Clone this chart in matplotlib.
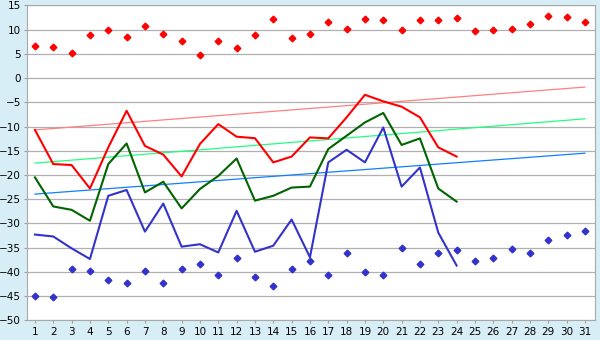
import matplotlib
matplotlib.use("Agg")
import matplotlib.pyplot as plt

# daily series, days 1..31
days = list(range(1, 32))
days_obs = list(range(1, 25))

max_temp = [6.6, 6.4, 5.2, 8.9, 9.9, 8.5, 10.7, 9.1, 7.6, 4.8,
            7.6, 6.2, 8.9, 12.2, 8.25, 9.1, 11.55, 10.1, 12.2, 12.0,
            9.9, 12.0, 12.0, 12.4, 9.7, 9.9, 10.1, 11.1, 12.8, 12.6, 11.55]
min_temp = [-45.0, -45.2, -39.4, -39.8, -41.7, -42.3, -39.8, -42.3, -39.4, -38.4,
            -40.65, -37.1, -41.1, -42.9, -39.4, -37.8, -40.65, -36.1, -40.0, -40.65,
            -35.1, -38.4, -36.1, -35.5, -37.8, -37.1, -35.3, -36.1, -33.4, -32.4, -31.6]

day_max = [-10.7, -17.75, -17.95, -22.8, -14.3, -6.75, -14.0, -15.8, -20.3, -13.6,
           -9.5, -12.1, -12.4, -17.4, -16.2, -12.25, -12.45, -8.1, -3.45, -4.8,
           -5.9, -8.1, -14.3, -16.2]
day_mean = [-20.5, -26.5, -27.2, -29.45, -17.75, -13.5, -23.6, -21.4, -26.9, -22.9,
            -20.2, -16.6, -25.3, -24.3, -22.6, -22.4, -14.65, -11.9, -9.15, -7.2,
            -13.8, -12.45, -22.8, -25.5]
day_min = [-32.3, -32.7, -35.15, -37.35, -24.3, -23.1, -31.7, -25.9, -34.8, -34.3,
           -36.0, -27.4, -35.85, -34.6, -29.2, -37.0, -17.4, -14.8, -17.4, -10.2,
           -22.4, -18.45, -31.9, -38.7]

# normals: value on day 1 and day 31
norm_days = [1, 31]
norm_max = [-10.7, -1.85]
norm_mean = [-17.55, -8.4]
norm_min = [-23.95, -15.5]

fig = plt.figure(figsize=(6, 3.4), dpi=100, facecolor="#d8eef6")
ax = fig.add_axes([0.0445, 0.058, 0.9472, 0.926])
ax.set_facecolor("white")

ax.plot(norm_days, norm_max, color="#ff8080", lw=0.9)
ax.plot(norm_days, norm_mean, color="#22ff80", lw=0.9)
ax.plot(norm_days, norm_min, color="#1080ff", lw=0.9)

ax.plot(days_obs, day_max, color="#ff0000", lw=1.5)
ax.plot(days_obs, day_mean, color="#006400", lw=1.5)
ax.plot(days_obs, day_min, color="#3333cc", lw=1.5)

ax.plot(days, max_temp, ls="none", marker="D", ms=3.4, color="#ff0000")
ax.plot(days, min_temp, ls="none", marker="D", ms=3.4, color="#3333cc")

ax.set_xlim(0.55, 31.55)
ax.set_ylim(-50, 15)
ax.set_xticks(days)
ax.set_yticks(range(-50, 16, 5))
ax.yaxis.grid(True, color="#b0b0b0", lw=0.9)
ax.set_axisbelow(True)
ax.tick_params(labelsize=7.5, length=2.5, color="#a0a0a0", pad=1.5)
ax.tick_params(axis="x", pad=2)
for s in ax.spines.values():
    s.set_color("#a8a8a8")

fig.savefig("out.png", dpi=100, facecolor=fig.get_facecolor())
